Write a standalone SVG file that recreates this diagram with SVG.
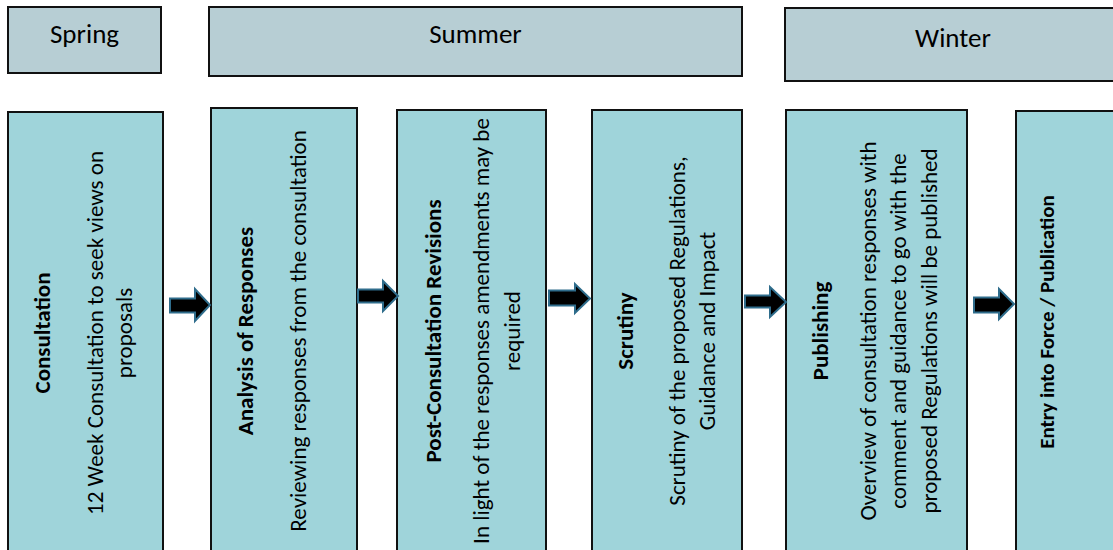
<svg xmlns="http://www.w3.org/2000/svg" width="1113" height="550" viewBox="0 0 1113 550">
<style>
.hdr{fill:#b7ced4;stroke:#111;stroke-width:2}
.box{fill:#9fd4da;stroke:#111;stroke-width:2}
.arr{fill:#000;stroke:#2f6d8c;stroke-width:2;stroke-linejoin:miter}
text{font-family:Carlito,Calibri,Lato,"Liberation Sans",sans-serif;fill:#000}
.ht{font-size:27px;text-anchor:middle}
.t{font-size:23px;text-anchor:middle;font-weight:bold}
.b{font-size:23px;text-anchor:middle}
</style>
<rect width="1113" height="550" fill="#fff"/>
<g id="spring"><rect class="hdr" x="8" y="7" width="153" height="66"/><text class="ht" x="84.5" y="43">Spring</text></g>
<g id="summer"><rect class="hdr" x="209" y="7" width="533" height="69"/><text class="ht" x="475.5" y="43">Summer</text></g>
<g id="winter"><rect class="hdr" x="785" y="8" width="336" height="73"/><text class="ht" x="953" y="47">Winter</text></g>

<g id="consultation"><rect class="box" x="8" y="112" width="155" height="450"/>
<text class="t" transform="translate(50,333) rotate(-90)">Consultation</text>
<text class="b" transform="translate(103,333) rotate(-90)">12 Week Consultation to seek views on</text>
<text class="b" transform="translate(132,333) rotate(-90)">proposals</text></g>

<g id="analysis"><rect class="box" x="211" y="108" width="146" height="454"/>
<text class="t" transform="translate(253,331) rotate(-90)">Analysis of Responses</text>
<text class="b" transform="translate(306,331) rotate(-90)">Reviewing responses from the consultation</text></g>

<g id="post"><rect class="box" x="397" y="110" width="149" height="452"/>
<text class="t" transform="translate(441,331) rotate(-90)">Post-Consultation Revisions</text>
<text class="b" transform="translate(489,331) rotate(-90)">In light of the responses amendments may be</text>
<text class="b" transform="translate(520,331) rotate(-90)">required</text></g>

<g id="scrutiny"><rect class="box" x="592" y="110" width="150" height="452"/>
<text class="t" transform="translate(633,331) rotate(-90)">Scrutiny</text>
<text class="b" transform="translate(685,331) rotate(-90)">Scrutiny of the proposed Regulations,</text>
<text class="b" transform="translate(715,331) rotate(-90)">Guidance and Impact</text></g>

<g id="publishing"><rect class="box" x="786" y="110" width="181" height="452"/>
<text class="t" transform="translate(828,331) rotate(-90)">Publishing</text>
<text class="b" transform="translate(876,331) rotate(-90)">Overview of consultation responses with</text>
<text class="b" transform="translate(906,331) rotate(-90)">comment and guidance to go with the</text>
<text class="b" transform="translate(937,331) rotate(-90)">proposed Regulations will be published</text></g>

<g id="entry"><rect class="box" x="1016" y="111" width="120" height="451"/>
<text class="t" style="font-size:21px" transform="translate(1054,322) rotate(-90)">Entry into Force / Publication</text></g>

<g id="connectors">
<polygon class="arr" points="170,298.5 195,298.5 195,289 210,305 195,321 195,312.5 170,312.5"/>
<polygon class="arr" points="358,289.5 383,289.5 383,281 398,296 383,311 383,302.5 358,302.5"/>
<polygon class="arr" points="549,290.5 575,290.5 575,284 590,298.5 575,313 575,305.5 549,305.5"/>
<polygon class="arr" points="745,295.5 770,295.5 770,287 786,302 770,317 770,307.5 745,307.5"/>
<polygon class="arr" points="974,297.5 999,297.5 999,289 1014,304 999,319 999,312.5 974,312.5"/>
</g>
</svg>
